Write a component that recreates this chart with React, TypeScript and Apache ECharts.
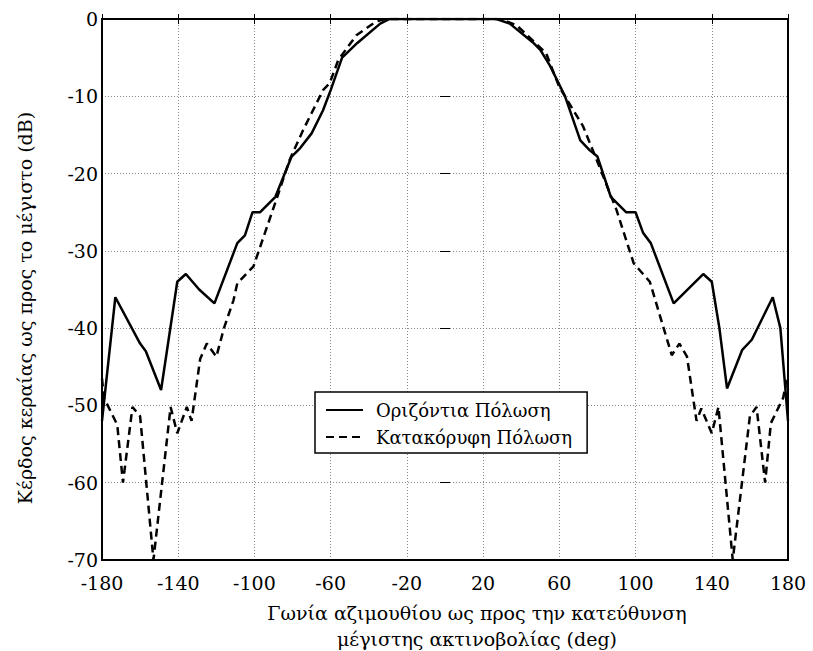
import React, { useEffect, useRef } from "react";
import * as echarts from "echarts";

const xTicks = [-180, -140, -100, -60, -20, 20, 60, 100, 140, 180];
const yTicks = [-70, -60, -50, -40, -30, -20, -10, 0];

const seriesNames = ["Οριζόντια Πόλωση", "Κατακόρυφη Πόλωση"];
const xTitleLines = ["Γωνία αζιμουθίου ως προς την κατεύθυνση", "μέγιστης ακτινοβολίας (deg)"];
const yTitle = "Κέρδος κεραίας ως προς το μέγιστο (dB)";

const hAngles = [-180, -173, -160, -157, -149, -140.5, -136, -129, -121, -109, -105, -101, -97, -89, -80.5, -76, -70, -64, -60, -54, -46, -34, -29, 27, 34, 46, 50, 55, 63, 71, 76, 80, 87, 95, 100, 104, 108, 120, 135.5, 140, 144, 148, 156, 161, 172, 176, 180];
const hGain = [-52, -36, -42, -43, -48, -34, -33, -35, -36.8, -29, -28, -25, -25, -23, -17.8, -16.7, -14.8, -11.8, -9.2, -5, -3.1, -0.6, 0, 0, -0.6, -3, -4, -6, -10, -15.7, -17, -17.8, -23, -25, -25, -27.7, -29, -36.8, -33, -34, -40, -47.8, -42.8, -41.5, -36, -40, -52];

const vAngles = [-180, -179, -172, -169, -164, -160, -153, -144, -140.5, -135.5, -133, -128.5, -125, -120, -116, -111, -109, -100.5, -88, -81.5, -74.5, -64, -60.5, -56, -46.5, -36, -31, 29, 37.5, 53, 60, 72.5, 81, 90, 99, 107.5, 114.5, 119, 123, 127, 132, 134.5, 140, 143.5, 151, 160, 163.5, 168, 171, 177.5, 179.2, 180];
const vGain = [-46.5, -49, -52.5, -60, -50.2, -51.4, -70, -50.2, -53.6, -50.2, -52, -44, -42, -43.7, -40, -36.4, -34.2, -32, -23, -18.2, -14.4, -9.2, -8.3, -5.3, -2.1, -0.3, 0, 0, -0.8, -4.4, -8.8, -13.9, -19.1, -24.7, -31.6, -34, -39.8, -43.5, -42, -43.7, -52, -50.4, -53.6, -50.2, -70, -51.4, -50.2, -60, -52.3, -49, -46.7, -48];

const FONT = "DejaVu Serif";

export default function App() {
  const ref = useRef<HTMLDivElement>(null);
  useEffect(() => {
    if (!ref.current) return;
    const chart = echarts.init(ref.current, undefined, { renderer: "svg" });
    const xMin = xTicks[0];
    const xMax = xTicks[xTicks.length - 1];
    const xInt = xTicks[1] - xTicks[0];
    const yMin = yTicks[0];
    const yMax = yTicks[yTicks.length - 1];
    const yInt = yTicks[1] - yTicks[0];
    const baseX = { type: "value" as const, min: xMin, max: xMax, interval: xInt };
    const baseY = { type: "value" as const, min: yMin, max: yMax, interval: yInt };
    const tick = { show: true, inside: true, length: 5, lineStyle: { color: "#000", width: 1 } };
    chart.setOption({
      animation: false,
      backgroundColor: "#fff",
      grid: {
        left: 102,
        top: 19,
        right: 25,
        bottom: 91,
        show: true,
        borderColor: "#000",
        borderWidth: 2,
        backgroundColor: "transparent",
        z: 10,
      },
      xAxis: [
        {
          ...baseX,
          position: "bottom",
          axisLine: { show: false },
          axisTick: tick,
          axisLabel: { show: true, margin: 13, color: "#000", fontFamily: FONT, fontSize: 19 },
          splitLine: { show: true, lineStyle: { type: [1, 2], color: "#888", width: 1 } },
        },
        {
          ...baseX,
          position: "top",
          axisLine: { show: false },
          axisTick: tick,
          axisLabel: { show: false },
          splitLine: { show: false },
        },
      ],
      yAxis: [
        {
          ...baseY,
          position: "left",
          axisLine: { show: false },
          axisTick: tick,
          axisLabel: { show: true, margin: 4, color: "#000", fontFamily: FONT, fontSize: 19 },
          splitLine: { show: true, lineStyle: { type: [1, 2], color: "#888", width: 1 } },
        },
        {
          ...baseY,
          position: "right",
          axisLine: { show: false },
          axisTick: tick,
          axisLabel: { show: false },
          splitLine: { show: false },
        },
      ],
      legend: {
        show: true,
        orient: "vertical",
        left: 315,
        top: 392,
        padding: [9, 15, 7, 10],
        itemGap: 9,
        itemWidth: 37,
        itemHeight: 14,
        borderColor: "#000",
        borderWidth: 1.5,
        backgroundColor: "#fff",
        borderRadius: 0,
        itemStyle: { opacity: 0 },
        textStyle: { fontFamily: FONT, fontSize: 18, color: "#000", padding: [0, 0, 0, 8] },
        data: seriesNames,
        z: 20,
      },
      series: [
        {
          name: seriesNames[0],
          type: "line",
          data: hAngles.map((a, i) => [a, hGain[i]]),
          showSymbol: false,
          symbol: "none",
          lineStyle: { color: "#000", width: 2.5, type: "solid" },
          itemStyle: { color: "#000" },
          z: 5,
        },
        {
          name: seriesNames[1],
          type: "line",
          data: vAngles.map((a, i) => [a, vGain[i]]),
          showSymbol: false,
          symbol: "none",
          lineStyle: { color: "#000", width: 2.5, type: [8, 5] },
          itemStyle: { color: "#000" },
          z: 5,
        },
      ],
      graphic: [
        {
          type: "text",
          x: 477,
          y: 613,
          style: { text: xTitleLines[0], fontFamily: FONT, fontSize: 19, fill: "#000", textAlign: "center", textVerticalAlign: "middle" },
        },
        {
          type: "text",
          x: 477,
          y: 639,
          style: { text: xTitleLines[1], fontFamily: FONT, fontSize: 19, fill: "#000", textAlign: "center", textVerticalAlign: "middle" },
        },
        {
          type: "text",
          x: 25,
          y: 308,
          rotation: Math.PI / 2,
          style: { text: yTitle, fontFamily: FONT, fontSize: 19, fill: "#000", textAlign: "center", textVerticalAlign: "middle" },
        },
      ],
    });
    return () => chart.dispose();
  }, []);
  return (
    <div
      ref={ref}
      style={{ position: "absolute", left: 0, top: 0, width: 813, height: 651, background: "#fff" }}
    />
  );
}
